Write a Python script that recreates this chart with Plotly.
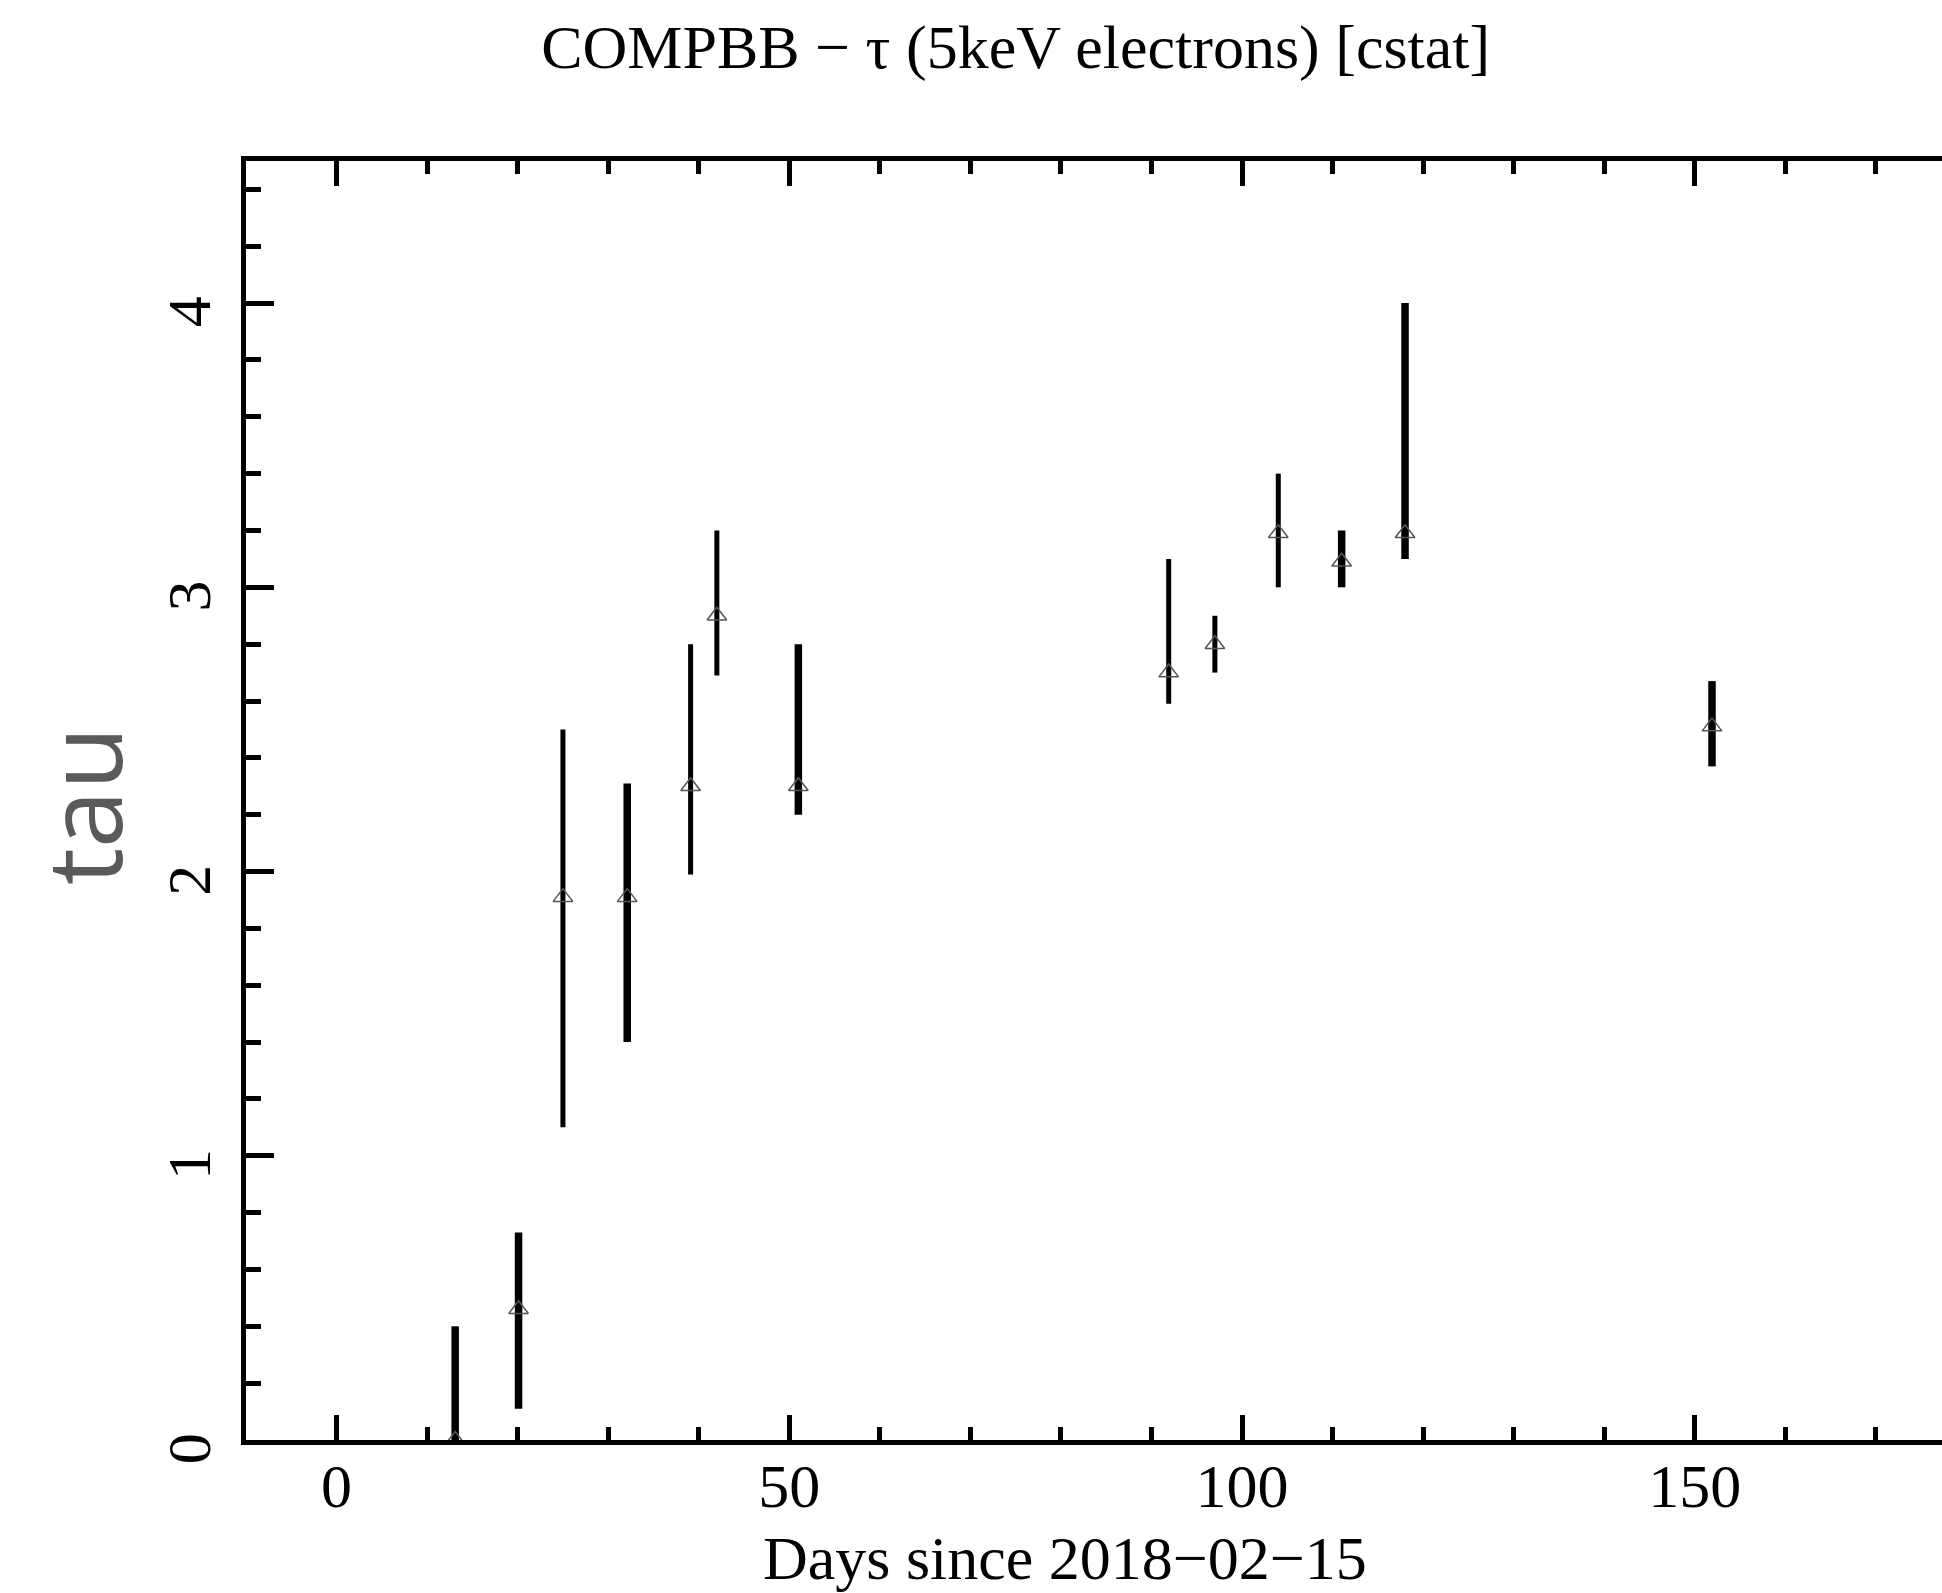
import plotly.graph_objects as go

# ---- data ----
days = [13.1, 20.1, 25.0, 32.1, 39.1, 42.0, 51.0, 91.9, 97.0, 104.0, 111.0, 118.0, 151.9]
tau = [0.00, 0.46, 1.91, 1.91, 2.30, 2.90, 2.30, 2.70, 2.80, 3.19, 3.09, 3.19, 2.51]
tau_hi = [0.40, 0.73, 2.50, 2.31, 2.80, 3.20, 2.80, 3.10, 2.90, 3.40, 3.20, 4.00, 2.67]
tau_lo = [0.00, 0.11, 1.10, 1.40, 1.99, 2.69, 2.20, 2.59, 2.70, 3.00, 3.00, 3.10, 2.37]

x_ticks = [0, 50, 100, 150]
y_ticks = [0, 1, 2, 3, 4]

title_text = "COMPBB \u2212 \u03c4 (5keV electrons) [cstat]"
x_title = "Days since 2018\u221202\u221215"
y_title = "tau"

# style grouping (thicker error bars in the reference)
thick_idx = {0, 1, 3, 6, 10, 11, 12}

SERIF = "Liberation Serif, Times New Roman, serif"

fig = go.Figure()

for group, width in ((False, 5), (True, 7.5)):
    idx = [i for i in range(len(days)) if (i in thick_idx) == group]
    fig.add_trace(go.Scatter(
        x=[days[i] for i in idx],
        y=[tau[i] for i in idx],
        mode="markers",
        marker=dict(symbol="triangle-up-open", size=17, color="#555555",
                    line=dict(width=1.5, color="#555555")),
        error_y=dict(type="data", symmetric=False,
                     array=[tau_hi[i] - tau[i] for i in idx],
                     arrayminus=[tau[i] - tau_lo[i] for i in idx],
                     color="black", thickness=width, width=0),
        showlegend=False,
        cliponaxis=False,
    ))

axis_common = dict(
    showline=True, linecolor="black", linewidth=5,
    ticks="inside", tickcolor="black", tickwidth=5,
    showgrid=False, zeroline=False,
    tickfont=dict(family=SERIF, size=62, color="black"),
)

fig.update_xaxes(
    range=[-10, 177.3], tickvals=x_ticks, ticklen=25, mirror="ticks",
    ticklabelstandoff=-12,
    minor=dict(dtick=10, tick0=0, ticks="inside", ticklen=13, tickwidth=5,
               tickcolor="black", showgrid=False),
    **axis_common,
)
fig.update_yaxes(
    range=[0, 4.5], tickvals=y_ticks, ticklen=28, tickangle=-90, mirror=False,
    ticklabelstandoff=6, ticklabelshift=18,
    minor=dict(dtick=0.2, tick0=0, ticks="inside", ticklen=15, tickwidth=5,
               tickcolor="black", showgrid=False),
    **axis_common,
)

# x-axis title (placed as in the reference, slightly left of the plot centre)
fig.add_annotation(
    text=x_title, xref="paper", yref="paper", x=0.483, y=-0.0923,
    xanchor="center", yanchor="middle", showarrow=False,
    font=dict(family=SERIF, size=62, color="black"),
)
# y-axis title
fig.add_annotation(
    text=y_title, xref="paper", yref="paper", x=-0.0967, y=0.4965,
    xanchor="center", yanchor="middle", showarrow=False, textangle=-90,
    borderpad=0,
    font=dict(family="Open Sans", size=104, color="#5a5a5a"),
)

fig.update_layout(
    width=1942, height=1593,
    margin=dict(l=246, r=0, t=161, b=153),
    paper_bgcolor="white", plot_bgcolor="white",
    title=dict(text=title_text, font=dict(family=SERIF, size=62, color="black"),
               x=0.523, xref="container", xanchor="center",
               y=1 - 46 / 1593, yref="container", yanchor="middle"),
)

fig.write_html("out.html")
